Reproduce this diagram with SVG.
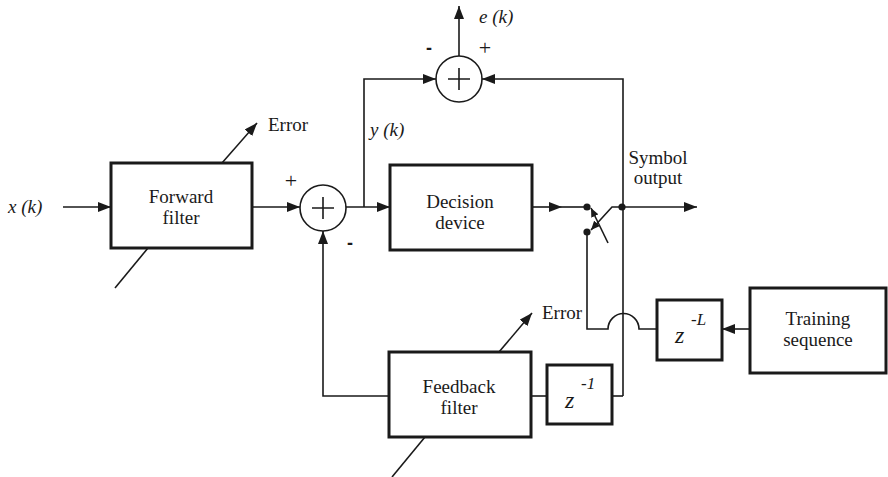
<svg xmlns="http://www.w3.org/2000/svg" width="888" height="477" viewBox="0 0 888 477">
<defs>
<style>
.box{fill:#fff;stroke:#1a1a1a;stroke-width:3}
.ln{fill:none;stroke:#1a1a1a;stroke-width:1.6}
.sum{fill:#fff;stroke:#1a1a1a;stroke-width:1.6}
.t{font-family:"Liberation Serif","Times New Roman",serif;font-size:19px;fill:#1a1a1a}
.m{text-anchor:middle}
.i{font-style:italic}
.z{font-family:"Liberation Serif","Times New Roman",serif;font-style:italic;font-size:24px;fill:#1a1a1a}
.sup{font-family:"Liberation Serif","Times New Roman",serif;font-style:italic;font-size:17px;fill:#1a1a1a}
.sg{font-family:"Liberation Serif","Times New Roman",serif;font-size:22px;fill:#1a1a1a;text-anchor:middle}
.dash{font-family:"Liberation Sans",Arial,sans-serif;font-weight:bold;font-size:18px;fill:#1a1a1a;text-anchor:middle}
</style>
<marker id="ah" markerUnits="userSpaceOnUse" markerWidth="13" markerHeight="10" refX="13" refY="5" orient="auto">
<path d="M0,0 L13,5 L0,10 z" fill="#1a1a1a"/>
</marker>
<marker id="sa" markerUnits="userSpaceOnUse" markerWidth="9" markerHeight="8" refX="9" refY="4" orient="auto">
<path d="M0,0 L9,4 L0,8 z" fill="#1a1a1a"/>
</marker>
</defs>

<g id="connectors">
<path class="ln" d="M63,207 L111,207" marker-end="url(#ah)"/>
<path class="ln" d="M252,207 L300,207" marker-end="url(#ah)"/>
<path class="ln" d="M346,207 L390,207" marker-end="url(#ah)"/>
<path class="ln" d="M364,207 L364,79 L436,79" marker-end="url(#ah)"/>
<path class="ln" d="M459,56 L459,6" marker-end="url(#ah)"/>
<path class="ln" d="M532,207 L562,207" marker-end="url(#ah)"/>
<path class="ln" d="M562,207 L587,207"/>
<path class="ln" d="M622,207 L697,207" marker-end="url(#ah)"/>
<path class="ln" d="M623,396 L623,79 L482,79" marker-end="url(#ah)"/>
<path class="ln" d="M612,396 L623,396"/>
<path class="ln" d="M531,396 L547,396"/>
<path class="ln" d="M389,396 L323,396 L323,231" marker-end="url(#ah)"/>
<path class="ln" d="M587,231 L587,329 L608,329 A15.5,15.5 0 0 1 639,329 L657,329"/>
<path class="ln" d="M750,329 L722,329" marker-end="url(#ah)"/>
<path class="ln" d="M222,163 L257,123" marker-end="url(#ah)"/>
<path class="ln" d="M148,248 L115,288"/>
<path class="ln" d="M499,352 L532,313" marker-end="url(#ah)"/>
<path class="ln" d="M425,437 L392,477"/>
<path class="ln" d="M622,207 L612,207 L591,230" marker-end="url(#sa)"/>
<path class="ln" d="M608,243 L591,208" marker-end="url(#sa)"/>
<circle cx="587" cy="207" r="3.6" fill="#1a1a1a"/>
<circle cx="587" cy="232" r="3.6" fill="#1a1a1a"/>
<circle cx="622" cy="207" r="3.6" fill="#1a1a1a"/>
</g>

<g id="input-label">
<text class="t i" x="8" y="213">x (k)</text>
</g>

<g id="forward-filter">
<rect class="box" x="111" y="163" width="141" height="85"/>
<text class="t m" x="181" y="203">Forward</text>
<text class="t m" x="181" y="224">filter</text>
<text class="t" x="268" y="131">Error</text>
</g>

<g id="sum1">
<circle class="sum" cx="323" cy="208" r="23"/>
<path class="ln" d="M312,208 L334,208 M323,197 L323,219"/>
<text class="sg" x="291" y="188">+</text>
<text class="dash" x="350" y="249">-</text>
</g>

<g id="decision-device">
<rect class="box" x="390" y="165" width="142" height="85"/>
<text class="t m" x="460" y="208">Decision</text>
<text class="t m" x="460" y="229">device</text>
<text class="t i" x="370" y="136">y (k)</text>
</g>

<g id="sum2">
<circle class="sum" cx="459" cy="79" r="23"/>
<path class="ln" d="M448,79 L470,79 M459,68 L459,90"/>
<text class="sg" x="485" y="55">+</text>
<text class="dash" x="429" y="54">-</text>
<text class="t i" x="479" y="23">e (k)</text>
</g>

<g id="symbol-output">
<text class="t m" x="658" y="164">Symbol</text>
<text class="t m" x="658" y="184">output</text>
</g>

<g id="feedback-filter">
<rect class="box" x="389" y="352" width="142" height="85"/>
<text class="t m" x="459" y="393">Feedback</text>
<text class="t m" x="459" y="414">filter</text>
<text class="t" x="542" y="319">Error</text>
</g>

<g id="delay1">
<rect class="box" x="547" y="365" width="65" height="59"/>
<text class="z" x="565" y="408">z</text>
<text class="sup" x="581" y="389">-1</text>
</g>

<g id="delayL">
<rect class="box" x="657" y="300" width="65" height="60"/>
<text class="z" x="675" y="343">z</text>
<text class="sup" x="691" y="325">-L</text>
</g>

<g id="training-sequence">
<rect class="box" x="750" y="288" width="136" height="85"/>
<text class="t m" x="818" y="325">Training</text>
<text class="t m" x="818" y="346">sequence</text>
</g>
</svg>
